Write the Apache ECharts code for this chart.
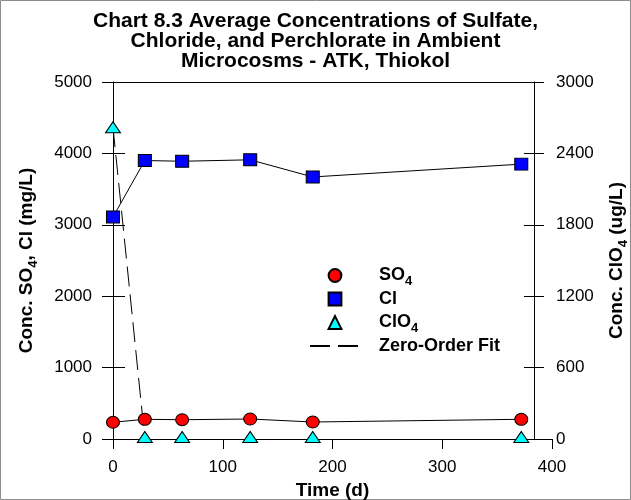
<!DOCTYPE html>
<html>
<head>
<meta charset="utf-8">
<script src="https://cdn.jsdelivr.net/npm/echarts@6/dist/echarts.min.js"></script>
<style>
html,body{margin:0;padding:0;background:#fff;}
#chart{width:631px;height:500px;}
</style>
</head>
<body>
<div id="chart"></div>
<script>
// ---- data ----
const timeDays = [0, 29, 63, 125, 182, 372];
const so4 = [234, 276, 270, 280, 238, 276];          // mg/L
const cl = [3110, 3900, 3890, 3910, 3670, 3850];     // mg/L
const clo4 = [2620, 17, 17, 17, 17, 17];             // ug/L
const fitTime = [0, 29];
const fitClo4 = [2620, 0];                            // ug/L
const xTicks = [0, 100, 200, 300, 400];
const leftTicks = [0, 1000, 2000, 3000, 4000, 5000];
const rightTicks = [0, 600, 1200, 1800, 2400, 3000];
const seriesNames = ['SO4', 'Cl', 'ClO4', 'Zero-Order Fit'];

const pair = (xs, ys) => xs.map((x, i) => [x, ys[i]]);
const FONT = 'Liberation Sans, Arial, Helvetica, sans-serif';
const subRich = {
  s: { fontSize: 13, fontWeight: 'bold', fontFamily: FONT, color: '#000', lineHeight: 10, padding: [12, 0, 0, 0] },
  g: { width: 14 }
};
const legendLabels = {
  'SO4': 'SO{s|4}',
  'Cl': 'Cl',
  'ClO4': 'ClO{s|4}',
  'Zero-Order Fit': 'Zero-Order Fit'
};

const chart = echarts.init(document.getElementById('chart'), null, { renderer: 'canvas' });

const axisLineBlack = { show: true, onZero: false, lineStyle: { color: '#000', width: 1 } };
const labelStyle = { color: '#000', fontSize: 17, fontFamily: FONT, formatter: (v) => String(v) };

const option = {
  animation: false,
  backgroundColor: '#fff',
  textStyle: { fontFamily: FONT },
  title: {
    text: 'Chart 8.3 Average Concentrations of Sulfate,\nChloride, and Perchlorate in Ambient\nMicrocosms - ATK, Thiokol',
    left: 'center',
    top: 11,
    padding: [0, 0, 0, 14],
    textStyle: { fontSize: 21, fontWeight: 'bold', color: '#000', lineHeight: 20, fontFamily: FONT }
  },
  graphic: [{
    type: 'rect', shape: { x: 0.5, y: 0.5, width: 630, height: 499 },
    style: { fill: 'none', stroke: '#8c8c8c', lineWidth: 1 }, silent: true
  }],
  legend: {
    orient: 'vertical',
    left: 309,
    top: 263,
    padding: 0,
    itemWidth: 50,
    itemHeight: 16,
    itemGap: 0,
    selectedMode: false,
    data: [
      { name: seriesNames[0], lineStyle: { opacity: 0 } },
      { name: seriesNames[1], lineStyle: { opacity: 0 } },
      { name: seriesNames[2], lineStyle: { opacity: 0 } },
      { name: seriesNames[3], itemStyle: { opacity: 0 } }
    ],
    formatter: (name) => '{g| }' + legendLabels[name],
    textStyle: { fontSize: 18, fontWeight: 'bold', color: '#000', lineHeight: 22, fontFamily: FONT, rich: subRich }
  },
  grid: [
    { left: 113, top: 82, right: 79, bottom: 61, outerBoundsMode: 'none', containLabel: false },
    { left: 113, top: 82, right: 97, bottom: 61, outerBoundsMode: 'none', containLabel: false }
  ],
  xAxis: [
    {
      type: 'value', gridIndex: 0, min: xTicks[0], max: xTicks[xTicks.length - 1], interval: 100,
      name: 'Time (d)', nameLocation: 'middle', nameGap: 34,
      nameTextStyle: { fontSize: 19, fontWeight: 'bold', color: '#000', fontFamily: FONT },
      axisLine: axisLineBlack,
      axisTick: { show: true, inside: false, length: 10, lineStyle: { color: '#000' } },
      axisLabel: Object.assign({ margin: 20 }, labelStyle),
      splitLine: { show: false }
    },
    {
      type: 'value', gridIndex: 1, position: 'top', min: 0, max: 1,
      axisLine: axisLineBlack, axisTick: { show: false }, axisLabel: { show: false }, splitLine: { show: false }
    }
  ],
  yAxis: [
    {
      type: 'value', gridIndex: 0, position: 'left', min: leftTicks[0], max: leftTicks[leftTicks.length - 1], interval: 1000,
      name: 'Conc. SO{s|4}, Cl (mg/L)', nameLocation: 'middle', nameRotate: 90, nameGap: 75,
      nameTextStyle: { fontSize: 19, fontWeight: 'bold', color: '#000', lineHeight: 22, fontFamily: FONT, rich: subRich },
      axisLine: axisLineBlack,
      axisTick: { show: true, inside: false, length: 11, lineStyle: { color: '#000' } },
      axisLabel: Object.assign({ margin: 21 }, labelStyle),
      splitLine: { show: false }
    },
    {
      type: 'value', gridIndex: 0, position: 'right', offset: -18,
      min: rightTicks[0], max: rightTicks[rightTicks.length - 1], interval: 600,
      name: 'Conc. ClO{s|4} (ug/L)', nameLocation: 'middle', nameRotate: 90, nameGap: 61,
      nameTextStyle: { fontSize: 19, fontWeight: 'bold', color: '#000', lineHeight: 22, fontFamily: FONT, rich: subRich },
      axisLine: axisLineBlack,
      axisTick: { show: true, inside: false, length: 10, lineStyle: { color: '#000' } },
      axisLabel: Object.assign({ margin: 22 }, labelStyle),
      splitLine: { show: false }
    },
    {
      type: 'value', gridIndex: 0, position: 'left', min: 0, max: 5000, interval: 1000,
      axisLine: { show: false, onZero: false },
      axisTick: { show: true, inside: true, length: 12, lineStyle: { color: '#000' } },
      axisLabel: { show: false }, splitLine: { show: false }
    },
    {
      type: 'value', gridIndex: 0, position: 'right', offset: -18, min: 0, max: 3000, interval: 600,
      axisLine: { show: false, onZero: false },
      axisTick: { show: true, inside: true, length: 10, lineStyle: { color: '#000' } },
      axisLabel: { show: false }, splitLine: { show: false }
    },
    {
      type: 'value', gridIndex: 1, min: 0, max: 1, show: false
    }
  ],
  series: [
    {
      name: seriesNames[0], type: 'line', xAxisIndex: 0, yAxisIndex: 0,
      data: pair(timeDays, so4),
      symbol: 'circle', symbolSize: [13, 12], showAllSymbol: true,
      itemStyle: { color: '#ff0000', borderColor: '#000', borderWidth: 1 },
      lineStyle: { color: '#000', width: 1 }, z: 3
    },
    {
      name: seriesNames[1], type: 'line', xAxisIndex: 0, yAxisIndex: 0,
      data: pair(timeDays, cl),
      symbol: 'rect', symbolSize: [13, 12],
      itemStyle: { color: '#0000ff', borderColor: '#000', borderWidth: 1 },
      lineStyle: { color: '#000', width: 1 }, z: 3
    },
    {
      name: seriesNames[2], type: 'line', xAxisIndex: 0, yAxisIndex: 1,
      data: pair(timeDays, clo4),
      symbol: 'triangle', symbolSize: [15, 11],
      itemStyle: { color: '#00ffff', borderColor: '#000', borderWidth: 1 },
      lineStyle: { width: 0, opacity: 0 }, z: 4
    },
    {
      name: seriesNames[3], type: 'line', xAxisIndex: 0, yAxisIndex: 1,
      data: pair(fitTime, fitClo4),
      symbol: 'none',
      itemStyle: { color: '#000' },
      lineStyle: { color: '#000', width: 1, type: [20, 8] }, z: 2
    }
  ]
};
chart.setOption(option);
</script>
</body>
</html>
